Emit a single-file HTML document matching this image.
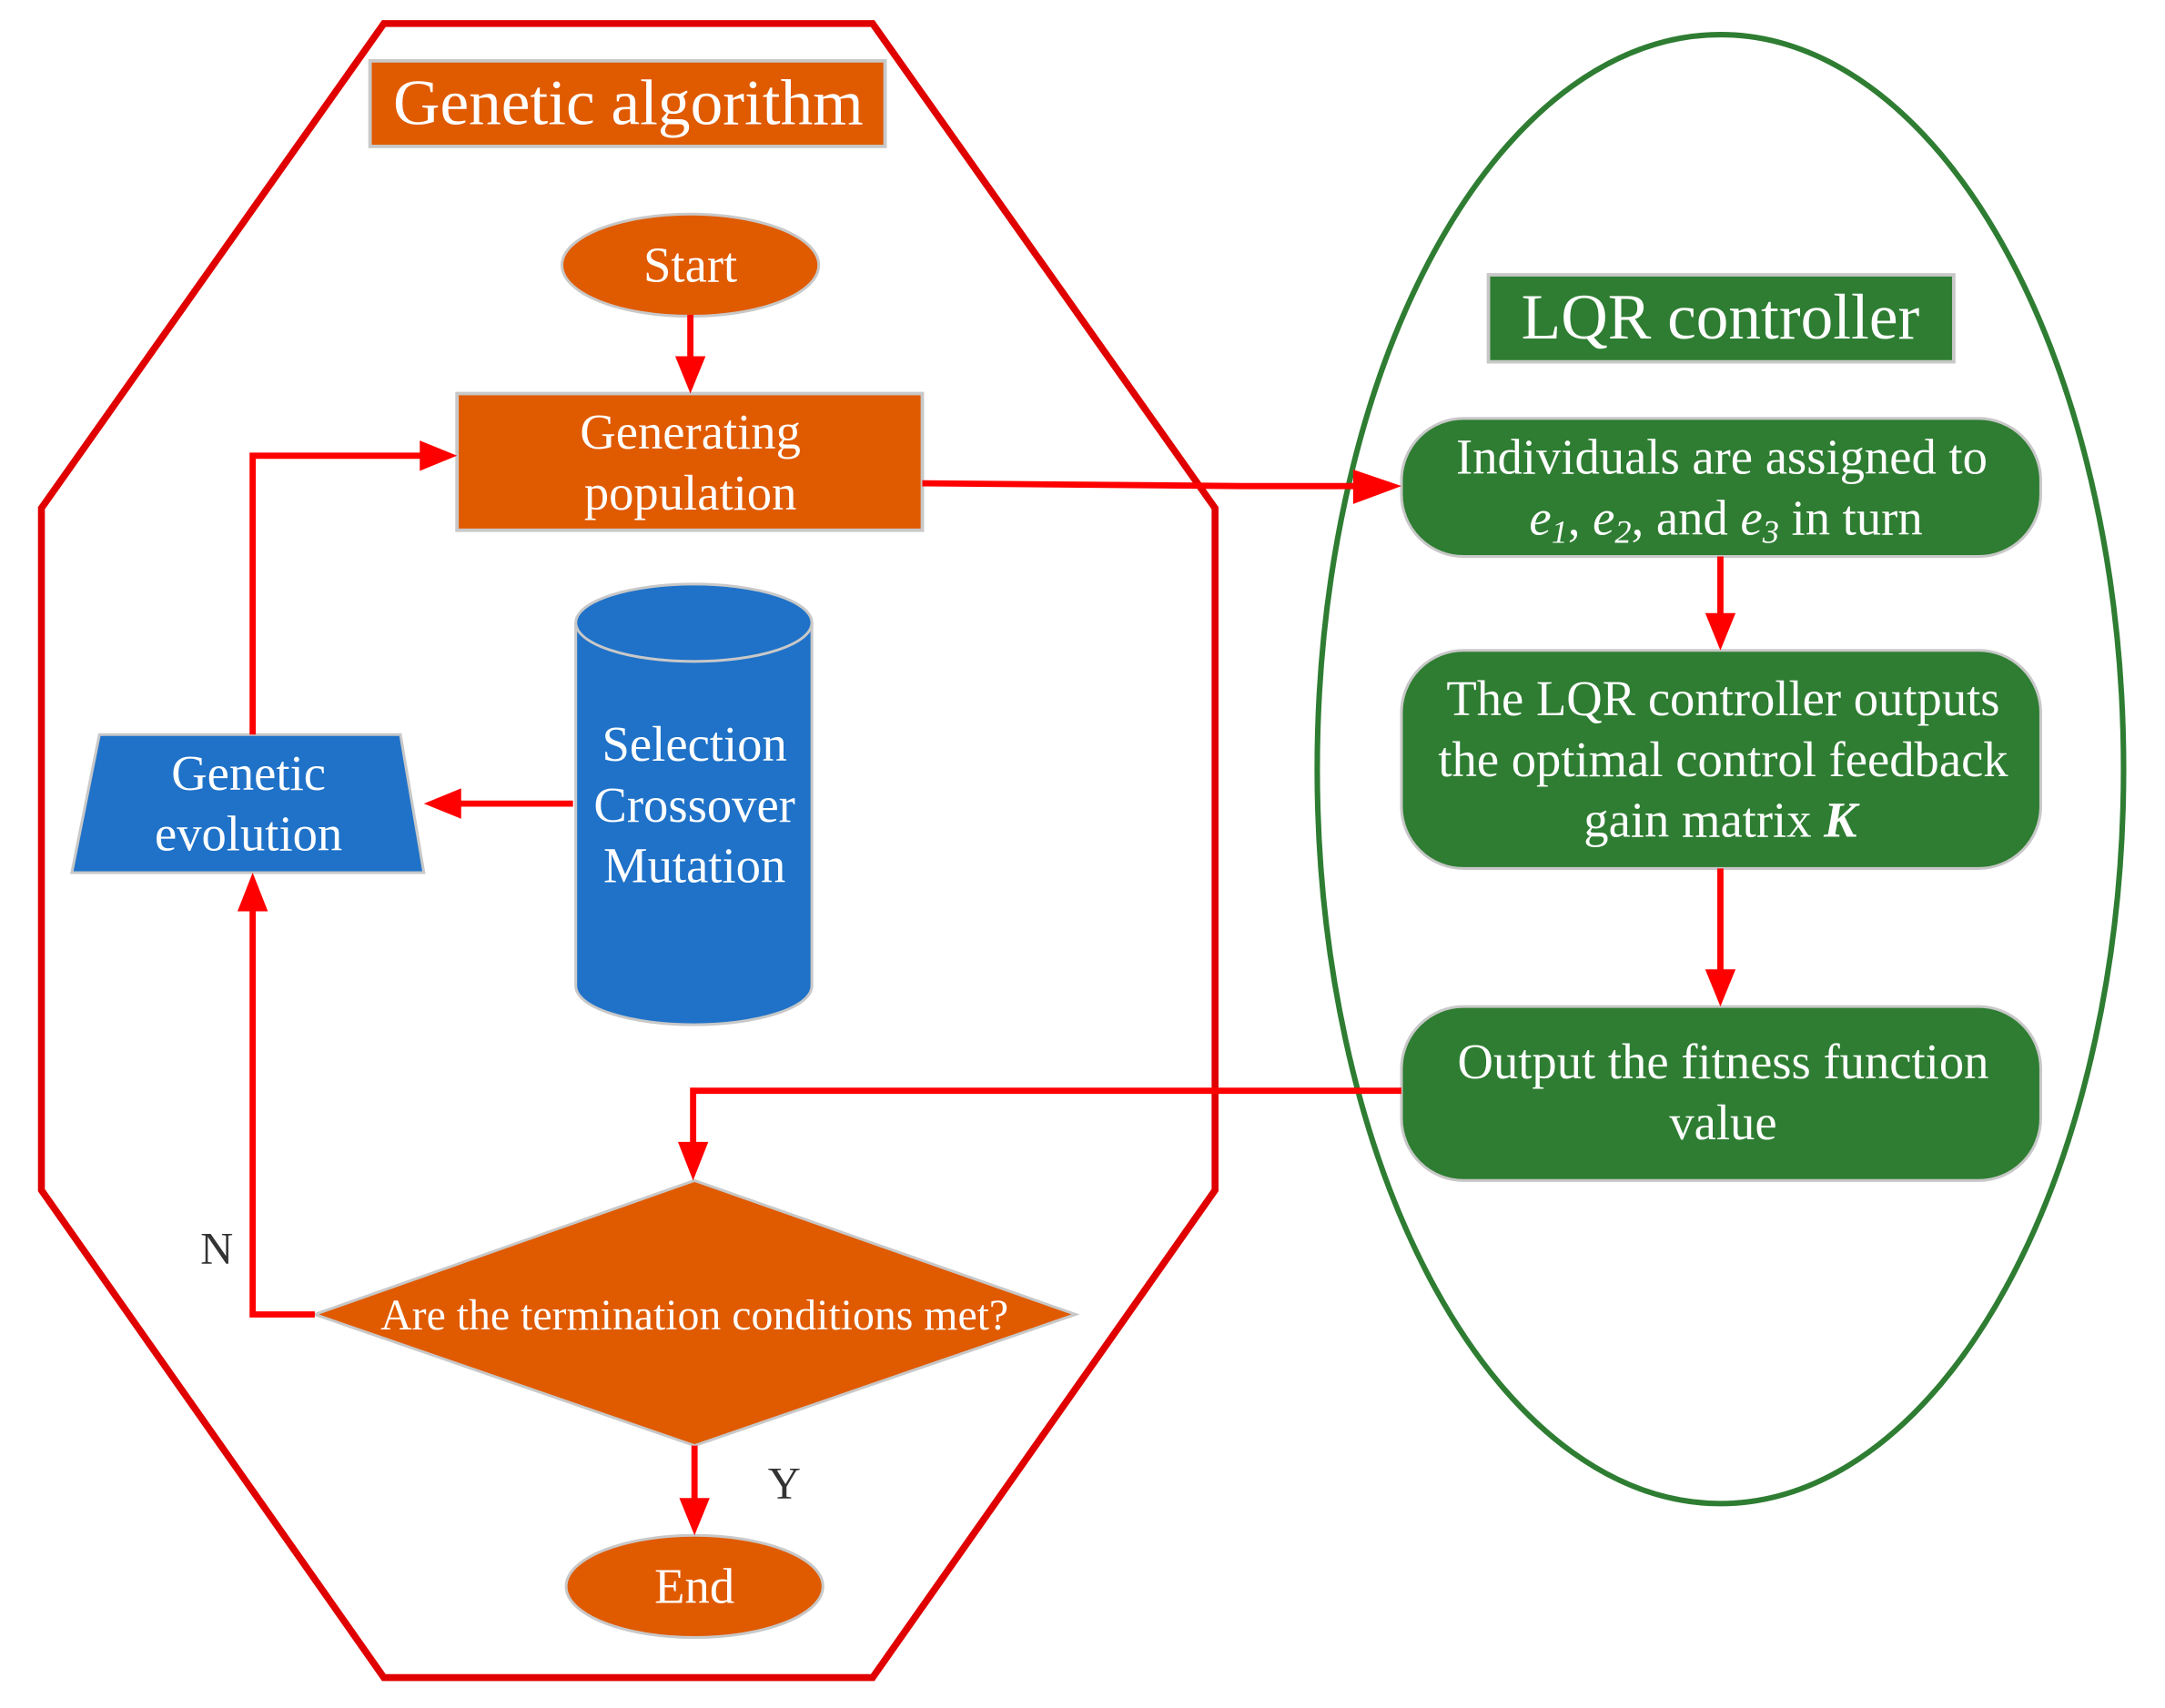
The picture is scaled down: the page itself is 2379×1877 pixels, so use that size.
<!DOCTYPE html>
<html><head><meta charset="utf-8"><style>
html,body{margin:0;padding:0;background:#fff;}
svg{display:block;}
text{font-family:"Liberation Serif",serif;fill:#fff;}
</style></head><body>
<svg width="2379" height="1877" viewBox="0 0 1568 1237" xmlns="http://www.w3.org/2000/svg">
<rect width="1568" height="1237" fill="#fff"/>
<polygon points="278,17 632,17 880,368 880,862 632,1215 278,1215 30,862 30,368" fill="none" stroke="#e00000" stroke-width="5"/>
<ellipse cx="1246" cy="557" rx="292" ry="532" fill="none" stroke="#2e7d32" stroke-width="4"/>

<rect x="268" y="44" width="373" height="62" fill="#e05a00" stroke="#c8c8c8" stroke-width="2.5"/>
<text x="455" y="90" font-size="47" text-anchor="middle">Genetic algorithm</text>

<ellipse cx="500" cy="192" rx="93" ry="37" fill="#e05a00" stroke="#c8c8c8" stroke-width="2"/>
<text x="500" y="204" font-size="36" text-anchor="middle">Start</text>

<rect x="331" y="285" width="337" height="99" fill="#e05a00" stroke="#c8c8c8" stroke-width="2.5"/>
<text x="500" y="325" font-size="36" text-anchor="middle">Generating</text>
<text x="500" y="369" font-size="36" text-anchor="middle">population</text>

<path d="M417,451 L417,714 A85,28 0 0 0 588,714 L588,451" fill="#1f72c8" stroke="#c8c8c8" stroke-width="2"/>
<ellipse cx="502.5" cy="451" rx="85.5" ry="28" fill="#1f72c8" stroke="#c8c8c8" stroke-width="2"/>
<text x="503" y="551" font-size="36" text-anchor="middle">Selection</text>
<text x="503" y="595" font-size="36" text-anchor="middle">Crossover</text>
<text x="503" y="639" font-size="36" text-anchor="middle">Mutation</text>

<polygon points="72,532 290,532 307,632 52,632" fill="#1f72c8" stroke="#c8c8c8" stroke-width="2"/>
<text x="180" y="572" font-size="36" text-anchor="middle">Genetic</text>
<text x="180" y="616" font-size="36" text-anchor="middle">evolution</text>

<polygon points="228,952 503,855 779,952 503,1047" fill="#e05a00" stroke="#c8c8c8" stroke-width="2"/>
<text x="503" y="963" font-size="31.5" text-anchor="middle">Are the termination conditions met?</text>

<ellipse cx="503" cy="1149" rx="93" ry="37" fill="#e05a00" stroke="#c8c8c8" stroke-width="2"/>
<text x="503" y="1161" font-size="36" text-anchor="middle">End</text>

<text x="157" y="915" font-size="33" text-anchor="middle" style="fill:#333">N</text>
<text x="568" y="1085" font-size="33" text-anchor="middle" style="fill:#333">Y</text>

<rect x="1078" y="199" width="337" height="63" fill="#2e7d32" stroke="#c8c8c8" stroke-width="2.5"/>
<text x="1246" y="245" font-size="47" text-anchor="middle">LQR controller</text>

<rect x="1015" y="303" width="463" height="100" rx="45" fill="#2e7d32" stroke="#c8c8c8" stroke-width="2"/>
<text x="1247" y="343" font-size="36" text-anchor="middle">Individuals are assigned to</text>
<text x="1250" y="387" font-size="36" text-anchor="middle"><tspan font-style="italic">e<tspan font-size="24" dy="6">1</tspan></tspan><tspan dy="-6">, </tspan><tspan font-style="italic">e<tspan font-size="24" dy="6">2</tspan></tspan><tspan dy="-6">, and </tspan><tspan font-style="italic">e<tspan font-size="24" dy="6">3</tspan></tspan><tspan dy="-6"> in turn</tspan></text>

<rect x="1015" y="471" width="463" height="158" rx="45" fill="#2e7d32" stroke="#c8c8c8" stroke-width="2"/>
<text x="1248" y="518" font-size="36" text-anchor="middle">The LQR controller outputs</text>
<text x="1248" y="562" font-size="36" text-anchor="middle">the optimal control feedback</text>
<text x="1246" y="606" font-size="36" text-anchor="middle">gain matrix <tspan font-weight="bold" font-style="italic">K</tspan></text>

<rect x="1015" y="729" width="463" height="126" rx="45" fill="#2e7d32" stroke="#c8c8c8" stroke-width="2"/>
<text x="1248" y="781" font-size="36" text-anchor="middle">Output the fitness function</text>
<text x="1248" y="825" font-size="36" text-anchor="middle">value</text>

<g stroke="#ff0000" stroke-width="4.5" fill="none">
<line x1="500" y1="228" x2="500" y2="262"/>
<polyline points="668,350 900,352 985,352"/>
<line x1="1246" y1="403" x2="1246" y2="448"/>
<line x1="1246" y1="629" x2="1246" y2="706"/>
<polyline points="1015,790 502,790 502,832"/>
<polyline points="228,952 183,952 183,656"/>
<polyline points="183,532 183,330 308,330"/>
<line x1="415" y1="582" x2="330" y2="582"/>
<line x1="503" y1="1047" x2="503" y2="1090"/>
</g>
<g fill="#ff0000">
<polygon points="489,258 511,258 500,285"/>
<polygon points="980,340 980,365 1015,352"/>
<polygon points="1235,444 1257,444 1246,471"/>
<polygon points="1235,702 1257,702 1246,729"/>
<polygon points="491,827 513,827 502,855"/>
<polygon points="172,660 194,660 183,632"/>
<polygon points="304,319 304,341 331,330"/>
<polygon points="334,571 334,593 307,582"/>
<polygon points="492,1085 514,1085 503,1112"/>
</g>
</svg>
</body></html>
